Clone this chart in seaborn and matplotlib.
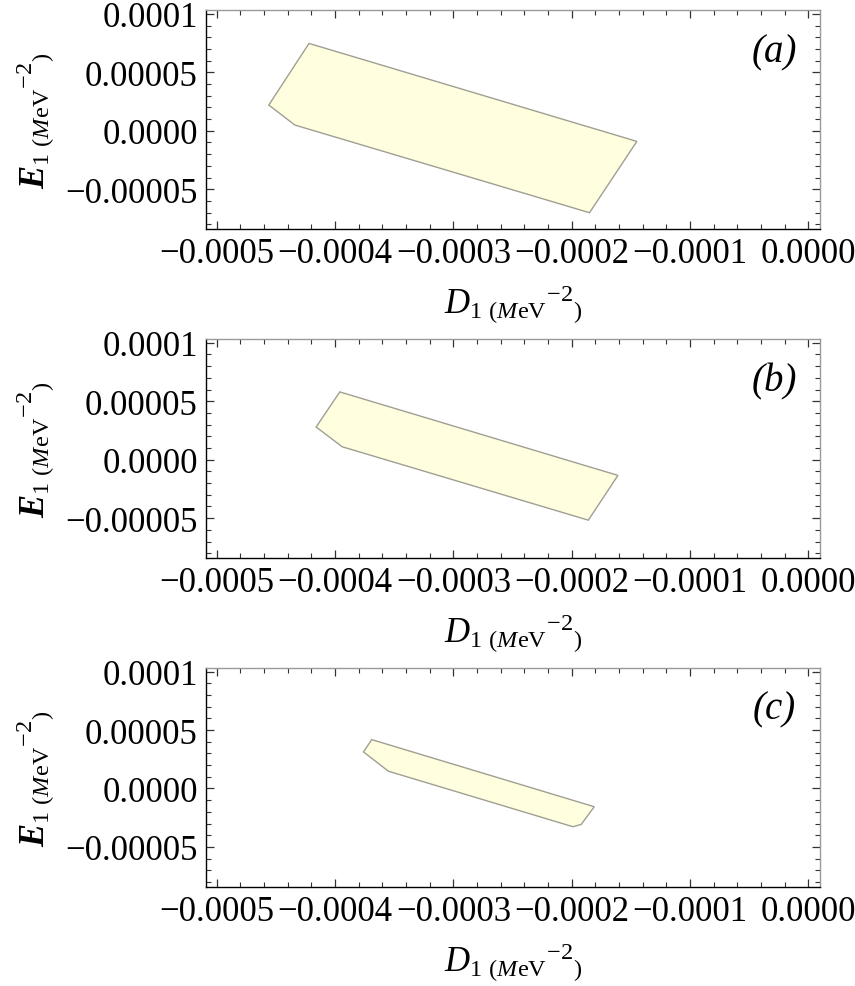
import numpy as np
import matplotlib
matplotlib.use("Agg")
import matplotlib.pyplot as plt
import seaborn as sns

# polygon outlines of the allowed region
a_D = [-0.000422, -0.000145, -0.000185, -0.000434, -0.000456]
a_E = [0.0000747, -0.0000091, -0.0000701, 0.0000049, 0.000022]

b_D = [-0.000396, -0.000161, -0.000186, -0.000394, -0.000416]
b_E = [0.000058, -0.0000134, -0.0000517, 0.0000111, 0.000028]

c_D = [-0.000369, -0.000181, -0.000192, -0.000199, -0.000355, -0.000376]
c_E = [0.0000418, -0.0000156, -0.0000307, -0.0000327, 0.0000148, 0.0000313]

panel_tags = ["(a)", "(b)", "(c)"]

x_ticks = [-0.0005, -0.0004, -0.0003, -0.0002, -0.0001, 0.0]
x_labels = ["\u22120.0005", "\u22120.0004", "\u22120.0003", "\u22120.0002", "\u22120.0001", "0.0000"]
y_ticks = [-0.00005, 0.0, 0.00005, 0.0001]
y_labels = ["\u22120.00005", "0.0000", "0.00005", "0.0001"]

sns.set_style("ticks")
plt.rcParams["font.family"] = ["Liberation Serif", "DejaVu Serif"]
plt.rcParams["mathtext.fontset"] = "custom"
plt.rcParams["mathtext.rm"] = "Liberation Serif"
plt.rcParams["mathtext.it"] = "Liberation Serif:italic"
plt.rcParams["mathtext.bf"] = "Liberation Serif:bold:italic"
plt.rcParams["text.color"] = "black"
plt.rcParams["axes.labelcolor"] = "black"
plt.rcParams["xtick.labelcolor"] = "black"
plt.rcParams["ytick.labelcolor"] = "black"

fig = plt.figure(figsize=(8.55, 9.87), dpi=100)
bottoms = [0.767, 0.4337, 0.1006]
polys = [(a_D, a_E), (b_D, b_E), (c_D, c_E)]

xlab = r"$D_1{}_{\ (\mathit{M}\mathrm{eV}}{}^{-2}{}_{)}$"
ylab = r"$\mathbf{E}_1{}_{\ (\mathit{M}\mathrm{eV}}{}^{-2}{}_{)}$"

for (D, E), b, tag in zip(polys, bottoms, panel_tags):
    ax = fig.add_axes([0.241, b, 0.718, 0.222])
    ax.fill(D, E, facecolor="#fffede", edgecolor="#a09f93", linewidth=1.0)
    ax.set_xlim(-0.000509, 0.0000097)
    ax.set_ylim(-0.000084, 0.0001034)

    ax.set_xticks(x_ticks)
    ax.set_xticklabels(x_labels)
    ax.set_yticks(y_ticks)
    ax.set_yticklabels(y_labels)
    ax.set_xticks(np.arange(-0.0005, 0.00001, 0.00002), minor=True)
    ax.set_yticks(np.arange(-0.00008, 0.000101, 0.00001), minor=True)
    ax.tick_params(which="both", direction="in", top=True, right=True,
                   labelsize=25, pad=6, color="#333333")
    ax.tick_params(which="major", length=6, width=0.9)
    ax.tick_params(which="minor", length=3.5, width=0.8)

    for side in ["bottom", "left"]:
        ax.spines[side].set_color("black")
        ax.spines[side].set_linewidth(1.0)
    for side in ["top", "right"]:
        ax.spines[side].set_visible(True)
        ax.spines[side].set_color("#999999")
        ax.spines[side].set_linewidth(1.0)

    ax.set_xlabel(xlab, fontsize=25, labelpad=9)
    ax.set_ylabel(ylab, fontsize=25, labelpad=6)
    ax.text(0.925, 0.81, tag, transform=ax.transAxes, fontsize=28,
            style="italic", ha="center", va="center")

fig.savefig("out.png", dpi=100)
